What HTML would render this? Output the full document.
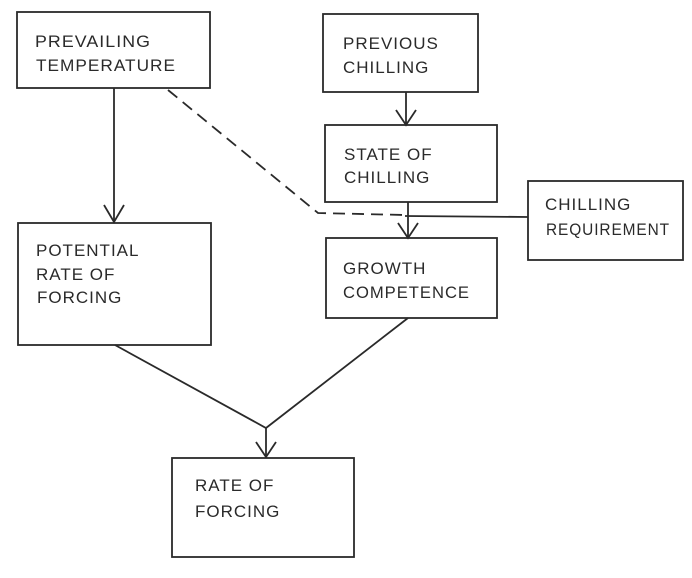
<!DOCTYPE html>
<html><head><meta charset="utf-8"><style>html,body{margin:0;padding:0;background:#fff}svg{display:block}</style></head>
<body>
<svg width="692" height="578" viewBox="0 0 692 578" xmlns="http://www.w3.org/2000/svg">
<g fill="none" stroke="#2a2a2a" stroke-width="1.8">
<rect x="17" y="12" width="193" height="76"/>
<rect x="323" y="14" width="155" height="78"/>
<rect x="325" y="125" width="172" height="77"/>
<rect x="528" y="181" width="155" height="79"/>
<rect x="18" y="223" width="193" height="122"/>
<rect x="326" y="238" width="171" height="80"/>
<rect x="172" y="458" width="182" height="99"/>
<line x1="114" y1="88" x2="114" y2="222"/>
<polyline points="104,205 114,222 124,205"/>
<line x1="406" y1="92" x2="406" y2="125"/>
<polyline points="396,110 406,125 416,110"/>
<line x1="408" y1="202" x2="408" y2="238"/>
<polyline points="398,223 408,238 418,223"/>
<polyline points="168,90 318,213 405,215" stroke-dasharray="12,7"/>
<line x1="405" y1="216" x2="528" y2="217"/>
<polyline points="115,345 266,428 408,318"/>
<line x1="266" y1="428" x2="266" y2="457"/>
<polyline points="256,442 266,457 276,442"/>
</g>
<g font-family="Liberation Sans, sans-serif" font-size="17" fill="#2a2a2a" letter-spacing="1">
<text x="35" y="47" textLength="116" lengthAdjust="spacingAndGlyphs">PREVAILING</text>
<text x="36" y="71" textLength="140" lengthAdjust="spacingAndGlyphs">TEMPERATURE</text>
<text x="343" y="49">PREVIOUS</text>
<text x="343" y="73">CHILLING</text>
<text x="344" y="160">STATE  OF</text>
<text x="344" y="183">CHILLING</text>
<text x="545" y="210">CHILLING</text>
<text x="546" y="235" textLength="124" lengthAdjust="spacingAndGlyphs">REQUIREMENT</text>
<text x="36" y="256">POTENTIAL</text>
<text x="36" y="280">RATE  OF</text>
<text x="37" y="303">FORCING</text>
<text x="343" y="274">GROWTH</text>
<text x="343" y="298" textLength="127" lengthAdjust="spacingAndGlyphs">COMPETENCE</text>
<text x="195" y="491">RATE  OF</text>
<text x="195" y="517">FORCING</text>
</g>
</svg>
</body></html>
